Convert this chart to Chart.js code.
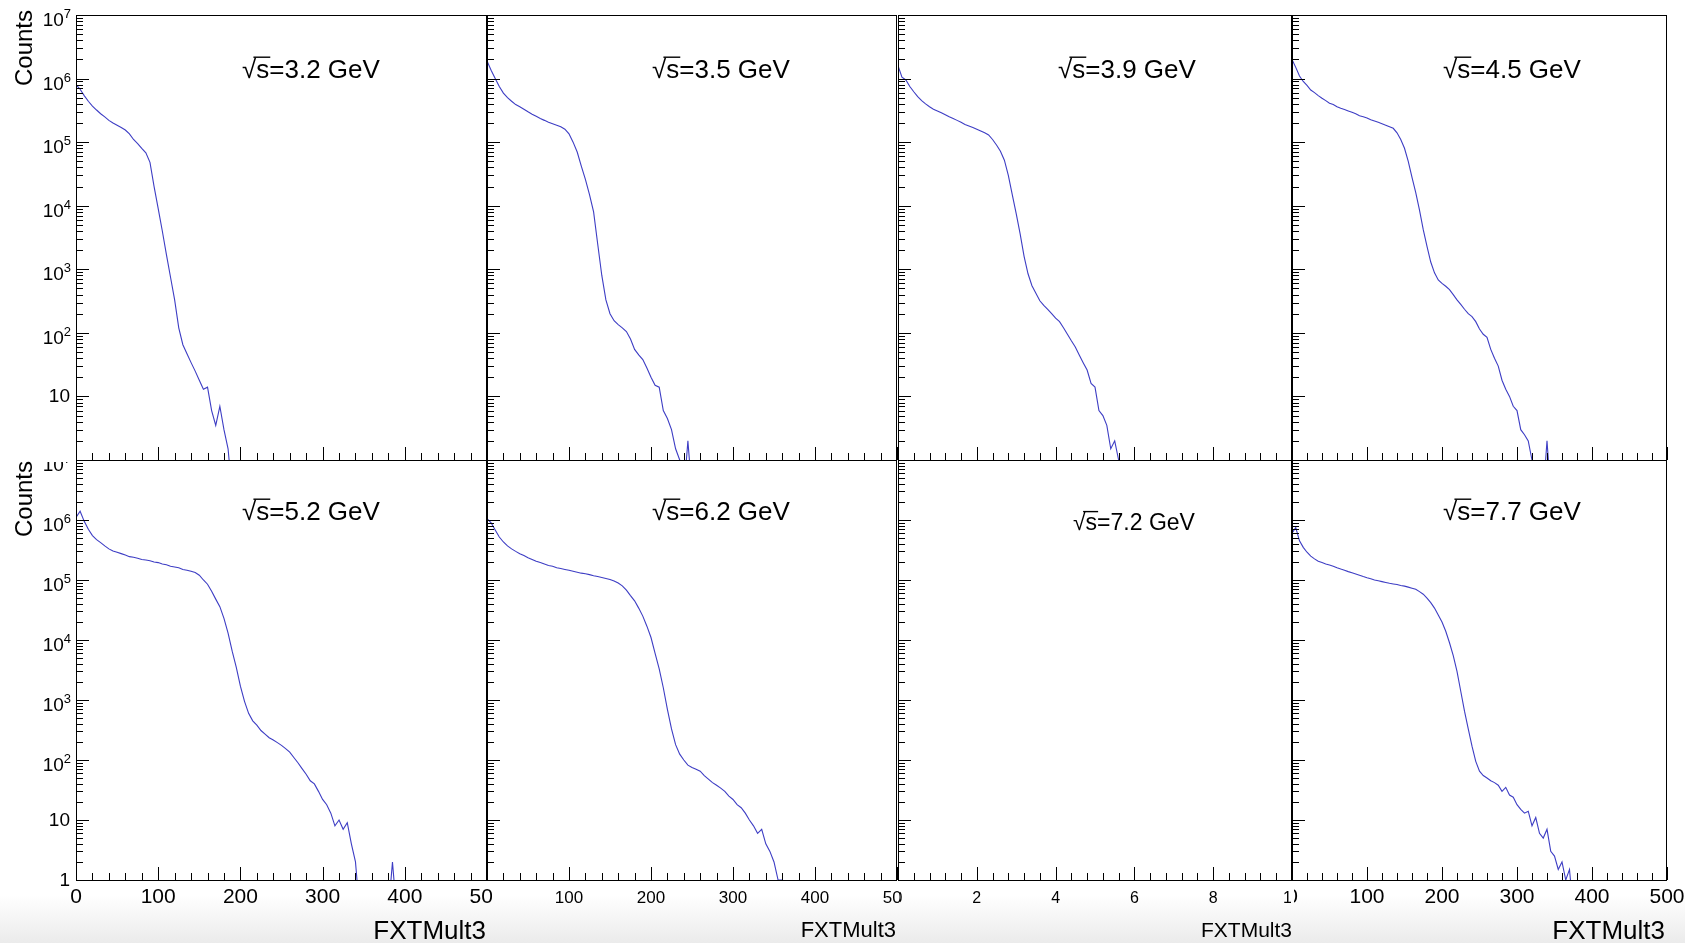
<!DOCTYPE html>
<html>
<head>
<meta charset="utf-8">
<script src="https://cdn.jsdelivr.net/npm/chart.js@4.4.0/dist/chart.umd.min.js"></script>
<style>
  html, body { margin: 0; padding: 0; background: #fff; }
  #wrap {
    position: relative; width: 1685px; height: 943px; overflow: hidden;
    background: linear-gradient(to bottom, #fff 0px, #fff 895px, #ebebeb 943px);
  }
  #wrap canvas { position: absolute; left: 0; top: 0; }
</style>
</head>
<body>
<div id="wrap"></div>
<script>
// FXTMult3 histograms, counts read every 5 units starting at 0
const BIN_W = 5;

const energies = ['3.2', '3.5', '3.9', '4.5', '5.2', '6.2', '7.2', '7.7'];

const counts_3p2 = [8.0e5, 6.8e5, 5.4e5, 4.4e5, 3.7e5, 3.2e5, 2.8e5, 2.5e5, 2.2e5, 2.0e5,
  1.85e5, 1.7e5, 1.55e5, 1.35e5, 1.1e5, 9.5e4, 8.0e4, 6.8e4, 4.8e4, 2.0e4,
  9.0e3, 4.0e3, 1.7e3, 750, 330, 120, 65, 47, 34, 25,
  18, 13, 14, 6, 3.5, 7, 3, 1.5];

const counts_3p5 = [1.9e6, 1.35e6, 1.0e6, 7.5e5, 5.9e5, 5.0e5, 4.4e5, 3.9e5, 3.6e5, 3.3e5,
  3.0e5, 2.75e5, 2.55e5, 2.35e5, 2.2e5, 2.05e5, 1.95e5, 1.85e5, 1.75e5, 1.6e5,
  1.35e5, 1.0e5, 7.0e4, 4.2e4, 2.6e4, 1.5e4, 8.0e3, 2.5e3, 800, 330,
  200, 155, 135, 120, 105, 80, 55, 45, 38, 28,
  20, 15, 14, 6, 4.5, 3, 1.5, 1, 0, 2];

const counts_3p9 = [1.6e6, 1.05e6, 9.5e5, 7.5e5, 6.2e5, 5.2e5, 4.5e5, 4.0e5, 3.6e5, 3.3e5,
  3.1e5, 2.9e5, 2.7e5, 2.5e5, 2.35e5, 2.2e5, 2.05e5, 1.9e5, 1.8e5, 1.7e5,
  1.6e5, 1.5e5, 1.4e5, 1.3e5, 1.1e5, 9.0e4, 7.2e4, 5.2e4, 3.0e4, 1.5e4,
  7.5e3, 3.6e3, 1.6e3, 850, 550, 420, 320, 270, 235, 200,
  170, 150, 120, 95, 75, 60, 45, 34, 26, 16,
  14, 6, 5, 3.5, 1.5, 2, 1];

const counts_4p5 = [2.0e6, 1.5e6, 1.1e6, 9.0e5, 7.8e5, 6.6e5, 6.0e5, 5.4e5, 4.9e5, 4.5e5,
  4.1e5, 3.9e5, 3.6e5, 3.4e5, 3.25e5, 3.1e5, 2.95e5, 2.8e5, 2.6e5, 2.5e5,
  2.4e5, 2.25e5, 2.15e5, 2.05e5, 1.95e5, 1.85e5, 1.75e5, 1.65e5, 1.4e5, 1.1e5,
  8.0e4, 5.0e4, 2.8e4, 1.6e4, 8.5e3, 4.2e3, 2.3e3, 1.3e3, 880, 680,
  600, 540, 480, 400, 330, 280, 235, 200, 180, 150,
  115, 95, 85, 55, 40, 30, 18, 13, 10, 7,
  6, 3, 2.5, 2, 1, 0, 0, 0, 2];

const counts_5p2 = [1.1e6, 1.4e6, 9.5e5, 7.0e5, 5.5e5, 4.7e5, 4.2e5, 3.7e5, 3.3e5, 3.05e5,
  2.9e5, 2.75e5, 2.6e5, 2.45e5, 2.4e5, 2.3e5, 2.2e5, 2.15e5, 2.1e5, 2.0e5,
  1.95e5, 1.85e5, 1.8e5, 1.7e5, 1.65e5, 1.6e5, 1.5e5, 1.45e5, 1.4e5, 1.33e5,
  1.2e5, 1.0e5, 8.5e4, 6.5e4, 4.8e4, 3.6e4, 2.3e4, 1.3e4, 6.5e3, 3.5e3,
  1.7e3, 950, 600, 450, 380, 310, 270, 235, 215, 195,
  175, 155, 135, 110, 90, 72, 58, 45, 40, 30,
  22, 18, 13, 8, 10, 7, 9, 4, 2, 0,
  0, 0, 0, 0, 0, 0, 0, 2];

const counts_6p2 = [1.05e6, 9.0e5, 6.8e5, 5.2e5, 4.3e5, 3.7e5, 3.3e5, 3.0e5, 2.75e5, 2.55e5,
  2.35e5, 2.2e5, 2.05e5, 1.95e5, 1.85e5, 1.75e5, 1.7e5, 1.6e5, 1.55e5, 1.5e5,
  1.45e5, 1.4e5, 1.35e5, 1.3e5, 1.27e5, 1.23e5, 1.18e5, 1.14e5, 1.1e5, 1.06e5,
  1.02e5, 9.6e4, 8.9e4, 8.0e4, 6.8e4, 5.5e4, 4.5e4, 3.4e4, 2.5e4, 1.7e4,
  1.1e4, 6.0e3, 3.3e3, 1.6e3, 700, 330, 180, 125, 100, 82,
  75, 70, 65, 55, 48, 42, 38, 34, 30, 25,
  22, 18, 16, 13, 10, 8, 6, 7, 4, 3,
  2, 1, 1];

const counts_7p2 = [];

const counts_7p7 = [6.0e5, 7.5e5, 4.5e5, 3.5e5, 2.9e5, 2.5e5, 2.25e5, 2.05e5, 1.95e5, 1.85e5,
  1.78e5, 1.7e5, 1.6e5, 1.52e5, 1.45e5, 1.38e5, 1.32e5, 1.26e5, 1.2e5, 1.14e5,
  1.09e5, 1.05e5, 1.0e5, 9.7e4, 9.4e4, 9.1e4, 8.8e4, 8.6e4, 8.4e4, 8.1e4,
  7.9e4, 7.6e4, 7.3e4, 7.0e4, 6.4e4, 5.8e4, 5.0e4, 4.2e4, 3.4e4, 2.6e4,
  2.0e4, 1.4e4, 9.0e3, 5.5e3, 3.0e3, 1.4e3, 650, 330, 170, 95,
  65, 55, 50, 45, 42, 38, 30, 35, 26, 24,
  18, 15, 13, 14, 8, 11, 6, 5, 7, 3,
  2.5, 1.5, 2, 1, 1.5];

const seriesList = [counts_3p2, counts_3p5, counts_3p9, counts_4p5,
                    counts_5p2, counts_6p2, counts_7p2, counts_7p7];

const xRanges = [500, 500, 500, 500, 500, 500, 10, 500];
const xTickLabels500 = ['0', '100', '200', '300', '400', '500'];
const xTickLabels10 = ['0', '2', '4', '6', '8', '10'];
const yDecades = [0, 1, 2, 3, 4, 5, 6, 7];

// layout of the 4x2 grid of pads
const W = 1685, H = 943;
const colX = [[76, 487], [487, 897], [898, 1292], [1292, 1667]];
const rowY = [[15, 460], [460, 880]];
const clipX = [[0, 492], [492, 900], [900, 1291], [1294, W]];
const FONT = '"Liberation Sans", Arial, Helvetica, sans-serif';
const LINE_COLOR = '#3d3dc4';
const BELOW_AXIS = 0.3; // empty bins drop below the log axis (clipped)

const tickFont = [21, 17, 16, 21];
const titleFont = [26, 22, 21, 26];
const titleRight = [486, 896, 1292, 1665];
const labelLeft = [[242, 652, 1058, 1443], [242, 652, 1073, 1443]];
const labelBase = [[78, 78, 78, 78], [520, 520, 530, 520]];
const labelSize = [[26, 26, 26, 26], [26, 26, 23, 26]];

function sqrtLabel(ctx, energy, x, y, size) {
  ctx.font = size + 'px ' + FONT;
  ctx.textAlign = 'left';
  ctx.textBaseline = 'alphabetic';
  ctx.fillText('√s=' + energy + ' GeV', x, y);
  const wr = ctx.measureText('√').width;
  const ws = ctx.measureText('s').width;
  ctx.beginPath();
  ctx.lineWidth = 1.4;
  const yb = y - size * 0.80;
  ctx.moveTo(x + wr * 0.8, yb);
  ctx.lineTo(x + wr + ws + 1, yb);
  ctx.stroke();
}

function makePad(idx) {
  const row = Math.floor(idx / 4), col = idx % 4;
  return {
    id: 'pad' + idx,
    afterDatasetsDraw(chart) {
      const ctx = chart.ctx, a = chart.chartArea;
      const xs = chart.scales.x, ys = chart.scales.y;
      ctx.save();
      ctx.fillStyle = '#000';
      ctx.strokeStyle = '#000';
      ctx.lineWidth = 1;

      // frame
      ctx.strokeRect(Math.round(a.left) + 0.5, Math.round(a.top) + 0.5,
                     Math.round(a.right - a.left) - 1, Math.round(a.bottom - a.top));

      // log y ticks (inside, on the left)
      ctx.beginPath();
      for (let d = 0; d < 7; d++) {
        for (let k = 1; k <= 9; k++) {
          const py = Math.round(ys.getPixelForValue(k * Math.pow(10, d))) + 0.5;
          const len = k === 1 ? 13 : 7;
          ctx.moveTo(a.left, py);
          ctx.lineTo(a.left + len, py);
        }
      }
      // x ticks (inside, on the bottom)
      const xMax = xRanges[idx];
      for (let i = 0; i <= 25; i++) {
        const px = Math.round(xs.getPixelForValue(xMax * i / 25)) + 0.5;
        const len = i % 5 === 0 ? 13 : 7;
        ctx.moveTo(px, a.bottom);
        ctx.lineTo(px, a.bottom - len);
      }
      ctx.stroke();

      // energy label
      sqrtLabel(ctx, energies[idx], labelLeft[row][col], labelBase[row][col], labelSize[row][col]);

      // y labels + title on first column
      if (col === 0) {
        ctx.save();
        ctx.beginPath();
        ctx.rect(0, row === 0 ? 0 : 462, 76, H);
        ctx.clip();
        ctx.textAlign = 'right';
        ctx.textBaseline = 'alphabetic';
        yDecades.forEach(d => {
          if (row === 0 && d === 0) return;
          const py = ys.getPixelForValue(Math.pow(10, d));
          if (d < 2) {
            ctx.font = '19px ' + FONT;
            ctx.fillText(d === 0 ? '1' : '10', 70, py + 6);
          } else {
            ctx.font = '13px ' + FONT;
            const ew = ctx.measureText(String(d)).width;
            ctx.fillText(String(d), 71, py + 3);
            ctx.font = '19px ' + FONT;
            ctx.fillText('10', 71 - ew, py + 11);
          }
        });
        ctx.restore();

        ctx.save();
        ctx.translate(32, row === 0 ? 10 : 461);
        ctx.rotate(-Math.PI / 2);
        ctx.font = '24px ' + FONT;
        ctx.textAlign = 'right';
        ctx.textBaseline = 'alphabetic';
        ctx.fillText('Counts', 0, 0);
        ctx.restore();
      }

      // x labels + title on bottom row
      if (row === 1) {
        ctx.save();
        ctx.beginPath();
        ctx.rect(clipX[col][0], 0, clipX[col][1] - clipX[col][0], H);
        ctx.clip();
        const labels = xMax === 10 ? xTickLabels10 : xTickLabels500;
        ctx.font = tickFont[col] + 'px ' + FONT;
        ctx.textAlign = 'center';
        ctx.textBaseline = 'alphabetic';
        labels.forEach((t, j) => {
          ctx.fillText(t, xs.getPixelForValue(xMax * j / 5), 903);
        });
        ctx.restore();

        ctx.font = titleFont[col] + 'px ' + FONT;
        ctx.textAlign = 'right';
        ctx.fillText('FXTMult3', titleRight[col], col === 0 || col === 3 ? 939 : 937);
      }
      ctx.restore();
    }
  };
}

const wrap = document.getElementById('wrap');
seriesList.forEach((counts, idx) => {
  const row = Math.floor(idx / 4), col = idx % 4;
  const cv = document.createElement('canvas');
  cv.width = W; cv.height = H;
  cv.style.width = W + 'px'; cv.style.height = H + 'px';
  wrap.appendChild(cv);

  const points = counts.map((v, i) => ({ x: i * BIN_W, y: v > 0 ? v : BELOW_AXIS }));
  if (counts.length) points.push({ x: counts.length * BIN_W, y: BELOW_AXIS });

  new Chart(cv.getContext('2d'), {
    type: 'line',
    data: {
      datasets: [{
        data: points,
        borderColor: LINE_COLOR,
        borderWidth: 1.1,
        tension: 0,
        pointRadius: 0,
        fill: false
      }]
    },
    options: {
      responsive: false,
      animation: false,
      devicePixelRatio: 1,
      events: [],
      layout: {
        padding: {
          left: colX[col][0], right: W - colX[col][1],
          top: rowY[row][0], bottom: H - rowY[row][1]
        }
      },
      plugins: { legend: { display: false }, tooltip: { enabled: false } },
      scales: {
        x: { type: 'linear', min: 0, max: xRanges[idx], display: false },
        y: { type: 'logarithmic', min: 1, max: 1e7, display: false }
      }
    },
    plugins: [makePad(idx)]
  });
});
</script>
</body>
</html>
